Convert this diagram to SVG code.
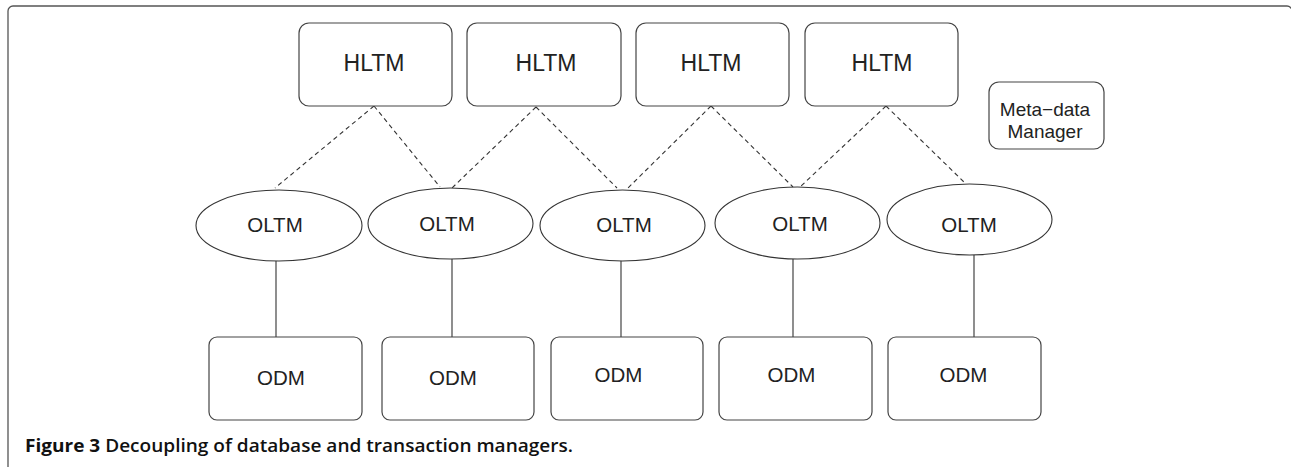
<svg xmlns="http://www.w3.org/2000/svg" width="1291" height="467" viewBox="0 0 1291 467">
  <style>
    .frame { fill: none; stroke: #555; stroke-width: 1.3; }
    .box { fill: #fff; stroke: #444; stroke-width: 1.2; }
    .oval { fill: #fff; stroke: #333; stroke-width: 1.1; }
    .lbl { font-family: "Liberation Sans", Arial, sans-serif; fill: #222; text-anchor: middle; }
    .hl { font-size: 23px; }
    .ol { font-size: 20.5px; }
    .md { font-size: 19px; }
    .dash { stroke: #333; stroke-width: 1.1; stroke-dasharray: 4.5 3.5; fill: none; }
    .solid { stroke: #444; stroke-width: 1.2; fill: none; }
    .cap { font-family: "Open Sans", "Liberation Sans", Arial, sans-serif; font-size: 18px; fill: #111; }
  </style>

  <!-- figure frame (open at bottom/right edge) -->
  <rect class="frame" x="8" y="6" width="1284" height="520" rx="5"/>

  <!-- connectors -->
  <g id="connectors">
    <line class="dash" x1="374" y1="106" x2="275" y2="188"/>
    <line class="dash" x1="374" y1="106" x2="440" y2="187"/>
    <line class="dash" x1="536" y1="107" x2="452" y2="188"/>
    <line class="dash" x1="536" y1="107" x2="617" y2="188"/>
    <line class="dash" x1="711" y1="106" x2="627" y2="189"/>
    <line class="dash" x1="711" y1="106" x2="793" y2="187"/>
    <line class="dash" x1="886" y1="106" x2="800" y2="187"/>
    <line class="dash" x1="886" y1="106" x2="965" y2="183"/>

    <line class="solid" x1="276" y1="261" x2="276" y2="337"/>
    <line class="solid" x1="452" y1="259" x2="452" y2="337"/>
    <line class="solid" x1="621" y1="261" x2="621" y2="337"/>
    <line class="solid" x1="793" y1="259" x2="793" y2="337"/>
    <line class="solid" x1="974" y1="255" x2="974" y2="337"/>
  </g>

  <!-- high-level transaction managers -->
  <g id="hltm1"><rect class="box" x="299" y="23" width="153" height="83" rx="10"/><text class="lbl hl" x="374" y="71">HLTM</text></g>
  <g id="hltm2"><rect class="box" x="467" y="23" width="154" height="83" rx="10"/><text class="lbl hl" x="546" y="71">HLTM</text></g>
  <g id="hltm3"><rect class="box" x="636" y="23" width="153" height="83" rx="10"/><text class="lbl hl" x="711" y="71">HLTM</text></g>
  <g id="hltm4"><rect class="box" x="805" y="23" width="153" height="83" rx="10"/><text class="lbl hl" x="882" y="71">HLTM</text></g>

  <!-- meta-data manager -->
  <g id="metadata">
    <rect class="box" x="989" y="82" width="115" height="67" rx="10"/>
    <text class="lbl md" x="1045" y="116">Meta−data</text>
    <text class="lbl md" x="1045" y="138">Manager</text>
  </g>

  <!-- object-level transaction managers -->
  <g id="oltm1"><ellipse class="oval" cx="279" cy="225.5" rx="83" ry="35.5"/><text class="lbl ol" x="275" y="232">OLTM</text></g>
  <g id="oltm2"><ellipse class="oval" cx="450.5" cy="223.5" rx="82.5" ry="35.5"/><text class="lbl ol" x="447" y="231">OLTM</text></g>
  <g id="oltm3"><ellipse class="oval" cx="622.5" cy="225.5" rx="82.5" ry="35.5"/><text class="lbl ol" x="624" y="232">OLTM</text></g>
  <g id="oltm4"><ellipse class="oval" cx="797.5" cy="223" rx="82.5" ry="36"/><text class="lbl ol" x="800" y="231">OLTM</text></g>
  <g id="oltm5"><ellipse class="oval" cx="969.5" cy="219.5" rx="82.5" ry="35.5"/><text class="lbl ol" x="969" y="232">OLTM</text></g>

  <!-- object data managers -->
  <g id="odm1"><rect class="box" x="209" y="337" width="153" height="83" rx="8"/><text class="lbl ol" x="281" y="385">ODM</text></g>
  <g id="odm2"><rect class="box" x="382" y="337" width="152" height="83" rx="8"/><text class="lbl ol" x="453" y="385">ODM</text></g>
  <g id="odm3"><rect class="box" x="551" y="337" width="152" height="83" rx="8"/><text class="lbl ol" x="618.5" y="382">ODM</text></g>
  <g id="odm4"><rect class="box" x="719" y="337" width="153" height="83" rx="8"/><text class="lbl ol" x="791.5" y="382">ODM</text></g>
  <g id="odm5"><rect class="box" x="888" y="337" width="153" height="83" rx="8"/><text class="lbl ol" x="963.5" y="382">ODM</text></g>

  <!-- caption -->
  <text class="cap" x="25" y="452" textLength="548" lengthAdjust="spacingAndGlyphs"><tspan font-weight="700">Figure 3</tspan><tspan font-weight="600"> Decoupling of database and transaction managers.</tspan></text>
</svg>
